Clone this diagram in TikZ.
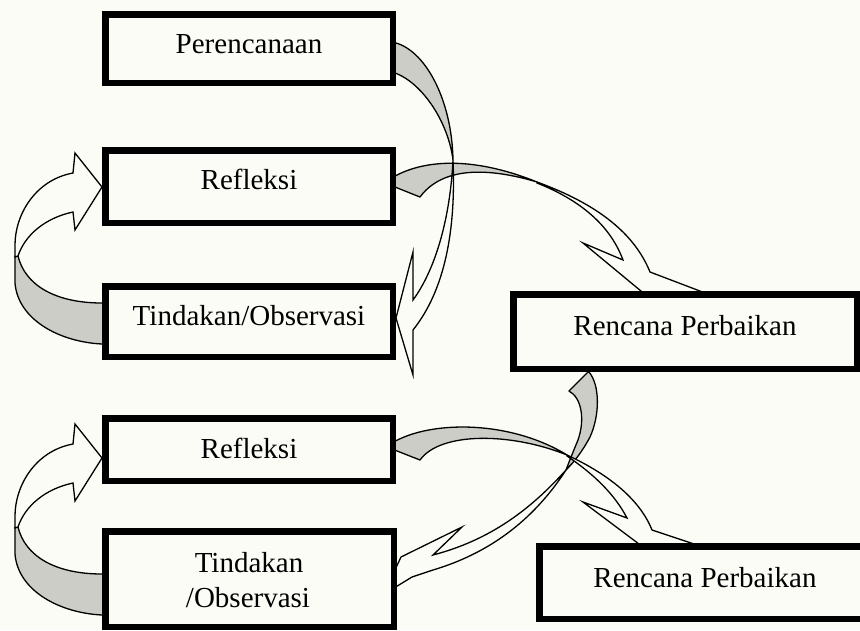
\documentclass[tikz,border=0pt]{standalone}
\usepackage{fontspec}
\setmainfont{Liberation Serif}
\definecolor{bg}{RGB}{252,252,247}
\definecolor{agray}{RGB}{205,205,200}
\begin{document}
\begin{tikzpicture}[x=1pt,y=-1pt,
  box/.style={draw=black,line width=6.5pt,fill=bg,rectangle,inner sep=0pt},
  lbl/.style={anchor=base,inner sep=0pt,font=\fontsize{29}{34}\selectfont},
  front/.style={draw=black,line width=1.3pt,fill=bg,line join=miter,miter limit=20},
  back/.style={draw=black,line width=1.3pt,fill=agray,line join=round},
  looparrow/.pic={
    \path[back] (106,303) -- (102,303) .. controls (55,303) and (25,285) .. (18,256) -- (15,256) -- (15,283) .. controls (18,320) and (60,342) .. (102,344) -- (106,344) -- cycle;
    \path[front] (15,257) -- (15,245) .. controls (15,215) and (35,180) .. (73,173) -- (75,153) -- (102,187) -- (75,230) -- (73,212) .. controls (45,218) and (25,235) .. (18,256) -- cycle;
  }
]
\path[use as bounding box,fill=bg] (0,0) rectangle (860,630);
\clip (0,0) rectangle (860,630);

% arrow Refleksi 1 -> Rencana Perbaikan 1
\path[back] (390,179) .. controls (420,160) and (470,155) .. (537,182) .. controls (480,165) and (440,170) .. (420,197) -- (390,185) -- cycle;
\path[front] (537,182) .. controls (600,205) and (635,235) .. (650,272) -- (713,296) -- (647,296) -- (583,243) -- (623,260) .. controls (610,225) and (580,200) .. (537,183) -- cycle;

% arrow Perencanaan -> Tindakan/Observasi 1
\path[back] (392,42) .. controls (425,48) and (452,100) .. (453,160) .. controls (448,120) and (420,80) .. (392,72) -- cycle;
\path[front] (453,160) .. controls (456,230) and (445,290) .. (413,330) -- (413,375) -- (396,318) -- (413,252) -- (413,300) .. controls (435,270) and (450,220) .. (453,160) -- cycle;

% left loops
\pic at (0,0) {looparrow};
\pic at (0,271) {looparrow};

% arrow Rencana Perbaikan 1 -> Tindakan 2
\path[back] (594,366) -- (569,391) .. controls (582,398) and (585,420) .. (578,440) .. controls (573,452) and (569,462) .. (566,470) .. controls (574,462) and (582,452) .. (590,437) .. controls (600,415) and (600,385) .. (589,372) -- cycle;
\path[front] (566,470) .. controls (540,510) and (500,550) .. (433,570) -- (412,577) -- (394,588) -- (394,572) -- (401,557) -- (462,527) -- (433,555) .. controls (490,540) and (530,510) .. (566,470) -- cycle;

% arrow Refleksi 2 -> Rencana Perbaikan 2
\path[back] (392,443) .. controls (430,420) and (510,420) .. (567,455) .. controls (510,432) and (440,432) .. (420,460) -- (392,449) -- cycle;
\path[front] (567,455) .. controls (610,475) and (640,500) .. (652,530) -- (712,550) -- (647,550) -- (583,502) -- (627,518) .. controls (615,495) and (595,475) .. (567,456) -- cycle;

% boxes
\node[box,minimum width=287.5pt,minimum height=68.5pt] (P) at (249,48.5) {};
\node[box,minimum width=287.5pt,minimum height=72.5pt] (R1) at (249,186.5) {};
\node[box,minimum width=287.5pt,minimum height=70.5pt] (T1) at (249,321.5) {};
\node[box,minimum width=343.5pt,minimum height=74.5pt] (RP1) at (685,331.5) {};
\node[box,minimum width=287.5pt,minimum height=62.5pt] (R2) at (249,449.5) {};
\node[box,minimum width=288.5pt,minimum height=95.5pt] (T2) at (249.5,579) {};
\node[box,minimum width=330.5pt,minimum height=72.5pt] (RP2) at (704.5,582.5) {};

% labels
\node[lbl] (Pt) at (249,53) {Perencanaan};
\node[lbl] (R1t) at (249,189) {Refleksi};
\node[lbl] (T1t) at (249,325) {Tindakan/Observasi};
\node[lbl] (RP1t) at (685,335) {Rencana Perbaikan};
\node[lbl] (R2t) at (249,458) {Refleksi};
\node[lbl] (T2a) at (249,572) {Tindakan};
\node[lbl] (T2b) at (248,607) {/Observasi};
\node[lbl] (RP2t) at (705,587) {Rencana Perbaikan};
\end{tikzpicture}
\end{document}
